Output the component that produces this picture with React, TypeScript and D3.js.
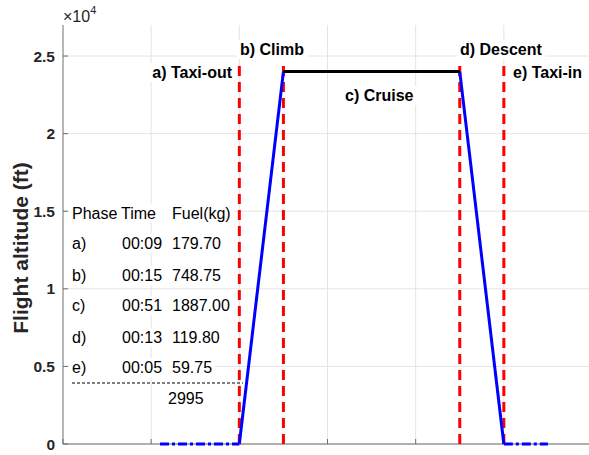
import React, { useEffect, useRef } from "react";
import * as d3 from "d3";

// ---- data ----
const taxiOutX = [1.1, 2];
const climbX = [2, 2.5];
const cruiseX = [2.5, 4.5];
const descentX = [4.5, 5];
const taxiInX = [5, 5.5];
const cruiseAlt = 24000;
const groundAlt = 0;
const boundaryX = [2, 2.5, 4.5, 5];
const boundaryTop = 24500;

const yTicks = [0, 5000, 10000, 15000, 20000, 25000];
const yTickLabels = ["0", "0.5", "1", "1.5", "2", "2.5"];
const xTicks = [0, 1, 2, 3, 4, 5, 6];

const phaseNames = ["a) Taxi-out", "b) Climb", "c) Cruise", "d) Descent", "e) Taxi-in"];
const tableHeader = ["Phase", "Time", "Fuel(kg)"];
const phaseLabels = ["a)", "b)", "c)", "d)", "e)"];
const phaseTimes = ["00:09", "00:15", "00:51", "00:13", "00:05"];
const phaseFuel = ["179.70", "748.75", "1887.00", "119.80", "59.75"];
const totalFuel = "2995";

const W = 589;
const H = 455;

export default function App() {
  const ref = useRef<SVGSVGElement>(null);

  useEffect(() => {
    const svg = d3.select(ref.current);
    svg.selectAll("*").remove();

    const x = d3.scaleLinear().domain([0, 6]).range([63, 592]);
    const y = d3.scaleLinear().domain([0, 27000]).range([444, 25]);
    const font = "'Liberation Sans', Arial, Helvetica, sans-serif";
    const axisColor = "#6e6e6e";
    const textColor = "#262626";

    const g = svg.append("g");

    // grid
    g.selectAll("line.gy")
      .data(yTicks)
      .join("line")
      .attr("x1", x(0))
      .attr("x2", W)
      .attr("y1", (d) => y(d))
      .attr("y2", (d) => y(d))
      .attr("stroke", "#e4e4e4")
      .attr("stroke-width", 1);
    g.selectAll("line.gx")
      .data(xTicks.slice(1))
      .join("line")
      .attr("x1", (d) => x(d))
      .attr("x2", (d) => x(d))
      .attr("y1", y(27000))
      .attr("y2", y(0))
      .attr("stroke", "#e4e4e4")
      .attr("stroke-width", 1);

    // spines
    g.append("line")
      .attr("x1", x(0)).attr("x2", x(0))
      .attr("y1", y(27000)).attr("y2", y(0))
      .attr("stroke", axisColor);
    g.append("line")
      .attr("x1", x(0)).attr("x2", W)
      .attr("y1", y(0)).attr("y2", y(0))
      .attr("stroke", axisColor);

    // ticks (inward)
    g.selectAll("line.ty")
      .data(yTicks)
      .join("line")
      .attr("x1", x(0)).attr("x2", x(0) + 5)
      .attr("y1", (d) => y(d)).attr("y2", (d) => y(d))
      .attr("stroke", axisColor);
    g.selectAll("line.tx")
      .data(xTicks)
      .join("line")
      .attr("x1", (d) => x(d)).attr("x2", (d) => x(d))
      .attr("y1", y(0)).attr("y2", y(0) - 5)
      .attr("stroke", axisColor);

    // tick labels
    g.selectAll("text.yl")
      .data(yTicks)
      .join("text")
      .attr("x", x(0) - 8)
      .attr("y", (d) => y(d) + 5.5)
      .attr("text-anchor", "end")
      .attr("font-family", font)
      .attr("font-weight", "bold")
      .attr("font-size", 15.5)
      .attr("fill", textColor)
      .text((d, i) => yTickLabels[i]);

    // exponent
    const ex = g.append("text")
      .attr("x", x(0))
      .attr("y", 22)
      .attr("font-family", font)
      .attr("font-size", 16)
      .attr("fill", textColor);
    ex.append("tspan").text("\u00d710");
    ex.append("tspan").attr("font-size", 11).attr("dy", -8).text("4");

    // y label
    g.append("text")
      .attr("transform", `translate(28,248) rotate(-90)`)
      .attr("text-anchor", "middle")
      .attr("font-family", font)
      .attr("font-weight", "bold")
      .attr("font-size", 21)
      .attr("fill", textColor)
      .text("Flight altitude (ft)");

    // helper for text with white background
    const bgText = (
      tx: number,
      ty: number,
      parts: { t: string; x: number }[],
      opts: { bold?: boolean; size: number; anchor?: string; pad?: number }
    ) => {
      const grp = g.append("g");
      const rect = grp.append("rect").attr("fill", "white");
      const txt = grp.append("text")
        .attr("font-family", font)
        .attr("font-size", opts.size)
        .attr("font-weight", opts.bold ? "bold" : "normal")
        .attr("fill", "black")
        .attr("text-anchor", opts.anchor || "start");
      parts.forEach((p) => {
        txt.append("tspan").attr("x", tx + p.x).attr("y", ty).text(p.t);
      });
      const bb = (txt.node() as SVGTextElement).getBBox();
      const pad = opts.pad ?? 3;
      rect
        .attr("x", bb.x - pad)
        .attr("y", bb.y - 1)
        .attr("width", bb.width + 2 * pad)
        .attr("height", bb.height + 2);
    };

    // table rows
    const colX = [0, 50, 100];
    bgText(72, 219, [
      { t: tableHeader[0], x: 0 },
      { t: tableHeader[1], x: 49 },
      { t: tableHeader[2], x: colX[2] },
    ], { size: 16 });
    const rowY = [249, 281, 311, 343, 373];
    phaseLabels.forEach((lab, i) => {
      bgText(72, rowY[i], [
        { t: lab, x: colX[0] },
        { t: phaseTimes[i], x: colX[1] },
        { t: phaseFuel[i], x: colX[2] },
      ], { size: 16 });
    });
    bgText(168, 404, [{ t: totalFuel, x: 0 }], { size: 16 });
    g.append("line")
      .attr("x1", 72).attr("x2", 243)
      .attr("y1", 383).attr("y2", 383)
      .attr("stroke", "black")
      .attr("stroke-width", 1)
      .attr("stroke-dasharray", "3,2");

    // phase annotations
    bgText(232, 78, [{ t: phaseNames[0], x: 0 }], { bold: true, size: 16, anchor: "end" });
    bgText(240, 55, [{ t: phaseNames[1], x: 0 }], { bold: true, size: 16 });
    bgText(345, 101, [{ t: phaseNames[2], x: 0 }], { bold: true, size: 16 });
    bgText(460, 55, [{ t: phaseNames[3], x: 0 }], { bold: true, size: 16 });
    bgText(513, 78, [{ t: phaseNames[4], x: 0 }], { bold: true, size: 16 });

    const line = d3.line<[number, number]>().x((d) => x(d[0])).y((d) => y(d[1]));

    // boundaries
    g.selectAll("line.b")
      .data(boundaryX)
      .join("line")
      .attr("x1", (d) => x(d)).attr("x2", (d) => x(d))
      .attr("y1", y(0)).attr("y2", y(boundaryTop))
      .attr("stroke", "#ff0000")
      .attr("stroke-width", 3)
      .attr("stroke-dasharray", "10,6");

    // taxi segments
    const dashDot = "9,3,3,3";
    g.append("path")
      .attr("d", line([[taxiOutX[0], groundAlt], [taxiOutX[1], groundAlt]]))
      .attr("fill", "none").attr("stroke", "#0000ff").attr("stroke-width", 3)
      .attr("stroke-dasharray", dashDot);
    g.append("path")
      .attr("d", line([[taxiInX[0], groundAlt], [taxiInX[1], groundAlt]]))
      .attr("fill", "none").attr("stroke", "#0000ff").attr("stroke-width", 3)
      .attr("stroke-dasharray", dashDot);
    // climb & descent
    g.append("path")
      .attr("d", line([[climbX[0], groundAlt], [climbX[1], cruiseAlt]]))
      .attr("fill", "none").attr("stroke", "#0000ff").attr("stroke-width", 3);
    g.append("path")
      .attr("d", line([[descentX[0], cruiseAlt], [descentX[1], groundAlt]]))
      .attr("fill", "none").attr("stroke", "#0000ff").attr("stroke-width", 3);
    // cruise
    g.append("path")
      .attr("d", line([[cruiseX[0], cruiseAlt], [cruiseX[1], cruiseAlt]]))
      .attr("fill", "none").attr("stroke", "black").attr("stroke-width", 3);
  }, []);

  return (
    <svg
      ref={ref}
      width={W}
      height={H}
      style={{ position: "absolute", left: 0, top: 0, background: "white" }}
    />
  );
}
